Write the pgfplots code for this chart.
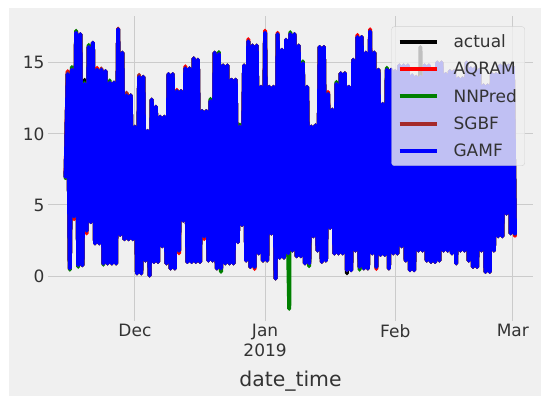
\documentclass[border=0pt]{standalone}
\usepackage{fontspec}
\setmainfont{DejaVu Sans}
\usepackage{pgfplots}
\usepackage{pgfplotstable}
\pgfplotsset{compat=1.18}

\definecolor{figbg}{HTML}{F0F0F0}
\definecolor{gridc}{HTML}{CBCBCB}
\definecolor{txt}{HTML}{333333}
\definecolor{sgbfc}{HTML}{A52A2A}
\definecolor{nnc}{HTML}{008000}

% t = days after 2018-12-01; one high and one low per day
\pgfplotstableread{
t     gam   act   aqr   nnp   sgb
-16.5 7.0   7.0   7.2   6.9   7.0
-16   14.2  14.2  14.4  14.2  14.3
-15.5 0.55  0.55  0.5   0.45  0.55
-15   14.5  14.5  14.5  14.7  14.5
-14.5 4.2   4.2   4.0   4.2   4.2
-14   17.1  17.1  17.2  17.25 17.1
-13.5 0.77  0.77  0.7   0.65  0.77
-13   17.0  17.0  17.0  17.0  17.0
-12.5 0.77  0.77  0.77  0.77  0.77
-12   13.5  13.8  13.5  13.6  13.5
-11.5 3.2   3.2   3.0   3.2   3.2
-11   16.1  16.1  16.1  16.25 16.1
-10.5 3.8   3.8   3.8   3.8   3.8
-10   16.4  16.4  16.4  16.4  16.4
-9.5  2.3   2.3   2.3   2.3   2.3
-9    14.5  14.5  14.65 14.5  14.5
-8.5  2.3   2.3   2.3   2.3   2.3
-8    14.5  14.5  14.5  14.5  14.6
-7.5  0.89  0.89  0.89  0.8   0.89
-7    14.4  14.4  14.4  14.4  14.4
-6.5  0.89  0.89  0.89  0.89  0.89
-6    13.6  13.6  13.6  13.75 13.6
-5.5  0.89  0.89  0.89  0.89  0.89
-5    13.6  13.6  13.6  13.6  13.6
-4.5  0.89  0.89  0.89  0.89  0.89
-4    17.35 17.35 17.4  17.35 17.35
-3.5  2.9   2.9   2.9   2.9   2.9
-3    15.7  15.7  15.7  15.7  15.7
-2.5  2.6   2.6   2.6   2.6   2.6
-2    12.7  12.8  12.85 12.7  12.9
-1.5  2.6   2.6   2.6   2.6   2.6
-1    12.7  12.7  12.7  12.7  12.7
-0.5  2.6   2.6   2.6   2.6   2.6
0     10.5  10.5  10.5  10.5  10.5
0.5   0.2   0.2   0.2   0.2   0.2
1     14.0  14.0  14.0  14.0  14.15
1.5   0.2   0.2   0.2   0.2   0.2
2     14.0  14.0  14.0  14.0  14.0
2.5   1.1   1.1   1.1   1.1   1.1
3     10.2  10.2  10.2  10.2  10.2
3.5   0.05  0.05  0.05  0.05  0.05
4     12.4  12.4  12.4  12.4  12.4
4.5   1.0   1.0   1.0   1.0   1.0
5     11.9  11.9  11.9  11.9  11.9
5.5   1.0   1.0   1.0   1.0   1.0
6     11.2  11.2  11.2  11.2  11.2
6.5   2.1   2.1   2.1   2.1   2.1
7     11.2  11.2  11.2  11.2  11.2
7.5   0.9   0.9   0.9   0.9   0.9
8     14.2  14.2  14.2  14.2  14.2
8.5   0.54  0.54  0.54  0.54  0.54
9     14.2  14.2  14.2  14.2  14.2
9.5   0.54  0.54  0.54  0.54  0.54
10    13.0  13.0  13.1  13.0  13.0
10.5  1.8   1.8   1.6   1.8   1.8
11    13.0  13.0  13.0  13.0  13.0
11.5  3.9   3.9   3.9   3.9   3.9
12    14.6  14.6  14.75 14.6  14.6
12.5  1.0   1.0   1.0   1.0   1.0
13    14.6  14.6  14.6  14.6  14.6
13.5  1.0   1.0   1.0   1.0   1.0
14    15.3  15.3  15.3  15.3  15.3
14.5  1.0   1.0   1.0   1.0   1.0
15    15.2  15.2  15.2  15.2  15.2
15.5  1.0   1.0   1.0   1.0   1.0
16    11.6  11.6  11.6  11.6  11.6
16.5  2.8   2.8   2.6   2.8   2.8
17    11.6  11.6  11.6  11.6  11.6
17.5  1.1   1.1   1.1   1.1   1.1
18    12.3  12.3  12.3  12.45 12.3
18.5  1.1   1.1   1.1   1.1   1.1
19    15.7  15.7  15.7  15.7  15.7
19.5  0.54  0.54  0.54  0.54  0.54
20    15.6  15.6  15.6  15.75 15.6
20.5  0.54  0.54  0.54  0.3   0.54
21    14.8  14.8  14.8  14.8  14.8
21.5  0.9   0.9   0.9   0.9   0.9
22    14.8  14.8  14.8  14.8  14.8
22.5  0.9   0.9   0.9   0.9   0.9
23    13.8  13.8  13.8  13.8  13.8
23.5  0.9   0.9   0.9   0.9   0.9
24    13.8  13.8  13.8  13.8  13.8
24.5  2.4   2.4   2.4   2.4   2.4
25    10.5  10.5  10.5  10.65 10.5
25.5  3.6   3.6   3.6   3.6   3.6
26    14.8  14.8  14.8  14.8  14.8
26.5  1.1   1.1   1.1   1.1   1.1
27    16.5  16.5  16.65 16.5  16.5
27.5  0.65  0.65  0.65  0.65  0.65
28    16.2  16.2  16.2  16.2  16.2
28.5  0.65  0.65  0.5   0.65  0.65
29    16.2  16.2  16.2  16.2  16.2
29.5  1.6   1.6   1.6   1.6   1.6
30    13.3  13.3  13.3  13.3  13.3
30.5  1.1   1.1   1.1   1.1   1.1
31    17.1  17.1  17.25 17.1  17.1
31.5  1.1   1.1   1.1   1.1   1.1
32    13.3  13.3  13.3  13.3  13.3
32.5  3.0   3.0   3.0   3.0   3.0
33    13.3  13.3  13.3  13.3  13.3
33.5  -0.16 -0.16 -0.16 -0.16 -0.16
34    17.0  17.0  17.1  17.0  17.0
34.5  1.3   1.3   1.3   1.3   1.3
35    15.9  15.9  15.9  15.9  15.9
35.5  1.3   1.3   1.3   1.3   1.3
36    16.6  16.6  16.6  16.6  16.6
36.5  1.6   1.6   1.6   1.6   1.6
36.75 9.3   9.3   9.3   -2.3  9.3
37    17.0  17.0  17.0  17.15 17.0
37.5  1.8   1.8   1.8   1.8   1.8
38    17.0  17.0  17.0  17.0  17.0
38.5  1.4   1.4   1.4   1.4   1.4
39    16.2  16.2  16.2  16.2  16.2
39.5  1.4   1.4   1.4   1.4   1.4
40    14.95 14.95 14.95 15.1  14.95
40.5  0.9   0.9   0.9   0.9   0.9
41    13.3  13.3  13.3  13.3  13.3
41.5  0.9   0.9   0.9   0.7   0.9
42    10.5  10.5  10.5  10.5  10.5
42.5  2.8   2.8   2.8   2.8   2.8
43    10.6  10.6  10.6  10.6  10.6
43.5  1.8   1.8   1.8   1.8   1.8
44    16.1  16.1  16.1  16.1  16.1
44.5  1.0   1.0   1.0   1.0   1.0
45    16.1  16.1  16.1  16.1  16.1
45.5  1.1   1.1   1.1   1.1   1.1
46    12.8  12.8  12.95 12.8  12.8
46.5  3.4   3.4   3.4   3.4   3.4
47    11.7  11.7  11.7  11.7  11.7
47.5  1.6   1.6   1.6   1.6   1.6
48    13.5  13.5  13.5  13.65 13.5
48.5  1.6   1.6   1.6   1.6   1.6
49    14.25 14.25 14.25 14.25 14.25
49.5  1.6   1.6   1.6   1.6   1.6
50    14.25 14.25 14.25 14.25 14.25
50.5  0.42  0.2   0.42  0.42  0.42
51    13.3  13.3  13.3  13.3  13.3
51.5  0.42  0.42  0.42  0.42  0.42
52    15.2  15.2  15.2  15.2  15.2
52.5  1.8   1.8   1.8   1.8   1.8
53    16.8  16.8  16.95 16.8  16.8
53.5  0.65  0.65  0.65  0.45  0.65
54    16.8  16.8  16.8  16.8  16.8
54.5  0.54  0.54  0.54  0.54  0.54
55    15.7  15.7  15.7  15.7  15.7
55.5  0.54  0.54  0.54  0.54  0.54
56    17.2  17.2  17.35 17.2  17.2
56.5  1.6   1.6   1.6   1.6   1.6
57    15.7  15.7  15.7  15.7  15.7
57.5  0.65  0.65  0.5   0.65  0.65
58    14.5  14.5  14.5  14.5  14.5
58.5  1.5   1.5   1.5   1.5   1.5
59    12.1  12.1  12.1  12.1  12.1
59.5  1.5   1.5   1.5   1.5   1.5
60    14.5  14.5  14.5  14.65 14.5
60.5  0.54  0.54  0.54  0.54  0.54
61    14.5  14.5  14.5  14.5  14.5
61.5  1.6   1.6   1.6   1.6   1.6
62    14.4  14.4  14.4  14.4  14.4
62.5  1.6   1.6   1.6   1.6   1.6
63    14.8  14.8  14.8  14.8  14.8
63.5  2.1   2.1   2.1   2.1   2.1
64    14.8  14.8  14.8  14.8  14.8
64.5  1.1   1.1   1.1   1.1   1.1
65    14.8  14.8  14.8  14.8  14.8
65.5  0.42  0.42  0.42  0.42  0.42
66    14.1  14.1  14.1  14.1  14.1
66.5  0.42  0.42  0.42  0.42  0.42
67    14.0  14.0  14.0  14.0  14.0
67.5  1.8   1.8   1.8   1.8   1.8
68    14.0  16.1  14.0  14.0  14.0
68.5  1.8   1.8   1.8   1.8   1.8
69    14.8  14.8  14.8  14.8  14.8
69.5  1.1   1.1   1.1   1.1   1.1
70    14.8  14.8  14.8  14.8  14.8
70.5  1.0   1.0   1.0   1.0   1.0
71    14.5  14.5  14.5  14.5  14.5
71.5  1.0   1.0   1.0   1.0   1.0
72    15.0  15.0  15.0  15.0  15.0
72.5  1.1   1.1   1.1   1.1   1.1
73    15.0  15.0  15.0  15.0  15.0
73.5  1.8   1.8   1.8   1.8   1.8
74    14.2  14.2  14.2  14.2  14.2
74.5  1.8   1.8   1.8   1.8   1.8
75    14.4  14.4  14.4  14.4  14.4
75.5  1.6   1.6   1.6   1.6   1.6
76    14.4  14.4  14.4  14.4  14.4
76.5  0.9   0.9   0.9   0.9   0.9
77    13.9  13.9  13.9  13.9  13.9
77.5  1.8   1.8   1.8   1.8   1.8
78    13.9  13.9  13.9  13.9  13.9
78.5  1.8   1.8   1.8   1.8   1.8
79    15.0  15.0  15.0  15.0  15.0
79.5  1.1   1.1   1.1   1.1   1.1
80    14.6  14.6  14.6  14.6  14.6
80.5  0.65  0.65  0.65  0.65  0.65
81    14.6  14.6  14.6  14.6  14.6
81.5  0.65  0.65  0.65  0.65  0.65
82    14.5  14.5  14.5  14.5  14.5
82.5  1.8   1.8   1.8   1.8   1.8
83    13.4  13.4  13.4  13.4  13.4
83.5  0.3   0.3   0.3   0.3   0.3
84    13.4  13.4  13.4  13.4  13.4
84.5  0.3   0.3   0.3   0.3   0.3
85    14.2  14.2  14.2  14.2  14.2
85.5  1.8   1.8   1.8   1.8   1.8
86    14.2  14.2  14.2  14.2  14.2
86.5  2.8   2.8   2.8   2.8   2.8
87    14.8  14.8  14.8  14.8  14.8
87.5  2.8   2.8   2.8   2.8   2.8
88    14.8  14.8  14.8  14.8  14.8
88.5  4.4   4.4   4.4   4.4   4.4
89    14.8  14.8  14.8  14.8  14.8
89.5  3.0   3.0   3.0   3.0   3.0
90    14.7  14.7  14.7  14.7  14.7
90.5  3.0   3.0   2.85  3.0   3.0
}\series

\begin{document}
\begin{tikzpicture}[x=1pt,y=1pt]
\useasboundingbox (0,0) rectangle (550,406);
\fill[white] (0,0) rectangle (550,406);
\fill[figbg] (9,10) rectangle (541,398);
\begin{axis}[
  at={(48pt,85pt)}, anchor=south west,
  scale only axis, width=485pt, height=305pt,
  xmin=-20.7, xmax=94.8, ymin=-3.15, ymax=18.28,
  axis background/.style={fill=figbg},
  axis line style={draw=none},
  major tick length=0pt,
  grid=major, grid style={gridc, line width=1pt},
  xtick={0,31,62,90},
  xticklabels={Dec, {Jan\\2019}, Feb, Mar},
  xticklabel style={align=center, font=\fontsize{17}{20}\selectfont, text=txt},
  ytick={0,5,10,15},
  yticklabel style={font=\fontsize{17}{20}\selectfont, text=txt},
  /pgf/number format/assume math mode=true,
  xlabel={date\_time},
  xlabel style={font=\fontsize{20.4}{24}\selectfont, text=txt, yshift=-7pt},
  legend cell align=left,
  legend style={at={(0.9835,0.966)}, anchor=north east,
    fill=figbg, fill opacity=0.8, draw=gridc, draw opacity=0.8,
    text opacity=1, rounded corners=3pt,
    font=\fontsize{17}{20}\selectfont, text=txt,
    row sep=9pt, inner xsep=6pt, inner ysep=6pt,
    /tikz/every odd column/.append style={column sep=13pt}},
  legend image code/.code={\draw[#1, draw opacity=1, line width=4pt, line cap=butt] (0pt,0pt) -- (37pt,0pt);},
  every axis plot/.append style={line width=4pt, line join=round, line cap=round},
]
\addplot[black] table[x=t, y=act] {\series};
\addplot[red] table[x=t, y=aqr] {\series};
\addplot[nnc] table[x=t, y=nnp] {\series};
\addplot[sgbfc] table[x=t, y=sgb] {\series};
\addplot[blue] table[x=t, y=gam] {\series};
\legend{actual, AQRAM, NNPred, SGBF, GAMF}
\end{axis}
\end{tikzpicture}
\end{document}
